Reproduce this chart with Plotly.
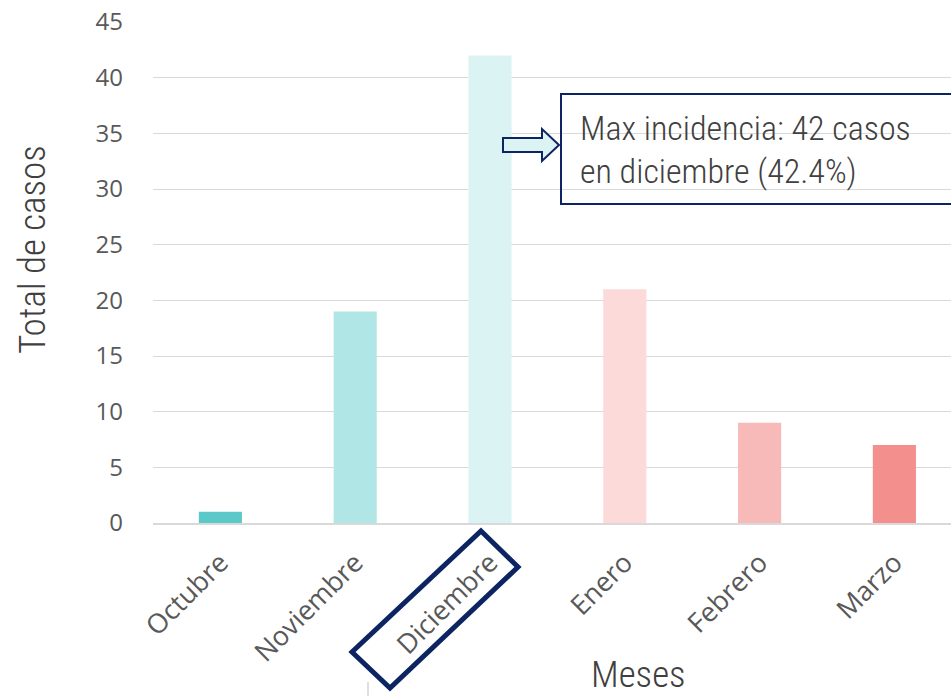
import plotly.graph_objects as go

# Monthly case counts
meses = ["Octubre", "Noviembre", "Diciembre", "Enero", "Febrero", "Marzo"]
casos = [1, 19, 42, 21, 9, 7]
colores = ["#5BC9C9", "#B1E6E6", "#DCF3F4", "#FCDADA", "#F8B9B9", "#F3908E"]
y_ticks = [0, 5, 10, 15, 20, 25, 30, 35, 40, 45]

W, H = 951, 696
L, R, T, B = 153, 0, 22, 173
PW, PH = W - L - R, H - T - B

NAVY = "#0C2461"
TEXT = "#404040"
NARROW = "Roboto Condensed, DejaVu Sans Condensed, Liberation Sans Narrow, sans-serif"
TICKFONT = "Open Sans, sans-serif"


def px(x):
    return (x - L) / PW


def py(y):
    return (H - B - y) / PH


total = sum(casos)
i_max = casos.index(max(casos))
pct = 100 * casos[i_max] / total

fig = go.Figure(
    go.Bar(
        x=meses,
        y=casos,
        marker=dict(color=colores, line=dict(width=0)),
        width=0.32,
        hoverinfo="x+y",
    )
)

fig.update_layout(
    width=W,
    height=H,
    margin=dict(l=L, r=R, t=T, b=B, pad=0),
    paper_bgcolor="white",
    plot_bgcolor="white",
    showlegend=False,
    xaxis=dict(
        range=[-0.5, 5.42],
        tickangle=-45,
        tickfont=dict(family=TICKFONT, size=27, color="#595959"),
        showgrid=False,
        showline=True,
        linecolor="#D9D9D9",
        linewidth=2,
        ticks="",
        ticklabelstandoff=11,
    ),
    yaxis=dict(
        range=[0, 45],
        tickvals=y_ticks,
        tickfont=dict(family=TICKFONT, size=24, color="#595959"),
        showgrid=True,
        gridcolor="#D9D9D9",
        gridwidth=1,
        zeroline=False,
        showline=False,
        ticks="",
        ticklabelstandoff=29,
    ),
)

annotations = [
    # y-axis title
    dict(
        text="Total de casos",
        xref="paper", yref="paper",
        x=px(32), y=py(250),
        xanchor="center", yanchor="middle",
        textangle=-90,
        showarrow=False,
        font=dict(family=NARROW, size=37, color=TEXT, weight=300),
    ),
    # x-axis title
    dict(
        text="Meses",
        xref="paper", yref="paper",
        x=px(638), y=py(651),
        xanchor="center", yanchor="top",
        showarrow=False,
        font=dict(family=NARROW, size=37, color=TEXT, weight=300),
    ),
    # callout text, two lines
    dict(
        text=f"Max incidencia: {casos[i_max]} casos",
        xref="paper", yref="paper",
        x=px(578), y=py(128),
        xanchor="left", yanchor="middle",
        showarrow=False,
        font=dict(family=NARROW, size=34, color=TEXT, weight=300),
    ),
    dict(
        text=f"en {meses[i_max].lower()} ({pct:.1f}%)",
        xref="paper", yref="paper",
        x=px(578), y=py(171),
        xanchor="left", yanchor="middle",
        showarrow=False,
        font=dict(family=NARROW, size=34, color=TEXT, weight=300),
    ),
]
fig.update_layout(annotations=annotations)


def path(points):
    return "M " + " L ".join(f"{px(x):.5f},{py(y):.5f}" for x, y in points) + " Z"


shapes = [
    # callout box
    dict(
        type="rect", xref="paper", yref="paper",
        x0=px(561), x1=px(965), y0=py(94), y1=py(204),
        line=dict(color=NAVY, width=2), fillcolor="rgba(255,255,255,0)",
        layer="above",
    ),
    # outlined arrow pointing at the callout
    dict(
        type="path", xref="paper", yref="paper",
        path=path([(503, 138), (542, 138), (542, 129), (559, 145),
                   (542, 161), (542, 152), (503, 152)]),
        line=dict(color=NAVY, width=2), fillcolor="#DCF3F4",
        layer="above",
    ),
    # rotated frame around the highlighted month label
    dict(
        type="path", xref="paper", yref="paper",
        path=path([(481, 531), (518, 567), (390, 688), (352, 652)]),
        line=dict(color=NAVY, width=5), fillcolor="rgba(255,255,255,0)",
        layer="above",
    ),
    # thin divider at the bottom edge
    dict(
        type="line", xref="paper", yref="paper",
        x0=px(368), x1=px(368), y0=py(682), y1=py(700),
        line=dict(color="#BFBFBF", width=1),
    ),
]
fig.update_layout(shapes=shapes)

fig.write_html("out.html")
